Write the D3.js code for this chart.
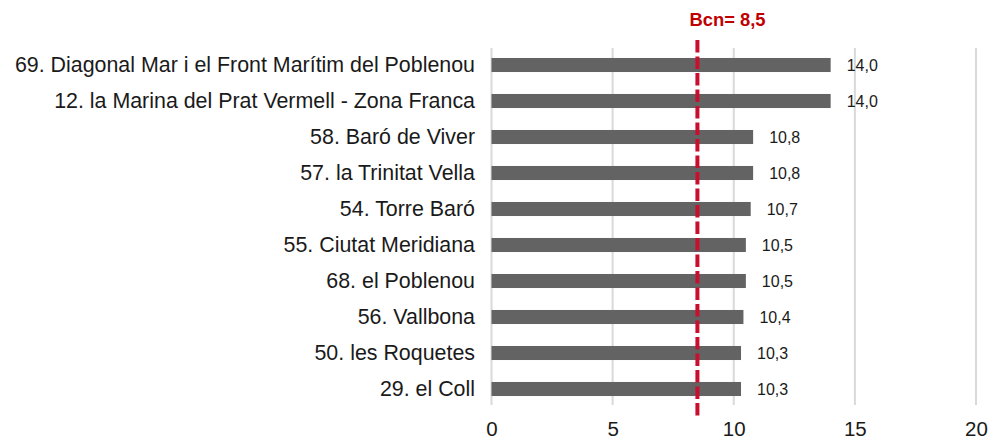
<!DOCTYPE html>
<html>
<head>
<meta charset="utf-8">
<script src="https://cdn.jsdelivr.net/npm/d3@7"></script>
<style>
  body { margin: 0; background: #fff; }
  text { font-family: "Liberation Sans", Arial, sans-serif; }
</style>
</head>
<body>
<svg width="991" height="441"></svg>
<script>
const categories = [
  '69. Diagonal Mar i el Front Marítim del Poblenou',
  '12. la Marina del Prat Vermell - Zona Franca',
  '58. Baró de Viver',
  '57. la Trinitat Vella',
  '54. Torre Baró',
  '55. Ciutat Meridiana',
  '68. el Poblenou',
  '56. Vallbona',
  '50. les Roquetes',
  '29. el Coll'
];
const values = [14.0, 14.0, 10.8, 10.8, 10.7, 10.5, 10.5, 10.4, 10.3, 10.3];
const xTicks = [0, 5, 10, 15, 20];
const bcnValue = 8.5;

const svg = d3.select('svg');
const fmt = v => d3.format('.1f')(v).replace('.', ',');

const x = d3.scaleLinear().domain([0, 20]).range([491.5, 976]);
const y = d3.scaleBand().domain(categories).range([47, 407])
  .paddingInner(0.61).paddingOuter(0.305);

// gridlines
svg.append('g')
  .selectAll('line')
  .data(xTicks)
  .enter().append('line')
  .attr('x1', d => x(d)).attr('x2', d => x(d))
  .attr('y1', 48).attr('y2', 405)
  .attr('stroke', '#d9d9d9')
  .attr('stroke-width', 2);

// bars
svg.append('g')
  .selectAll('rect')
  .data(values)
  .enter().append('rect')
  .attr('x', x(0))
  .attr('y', (d, i) => y(categories[i]))
  .attr('width', d => x(d) - x(0))
  .attr('height', y.bandwidth())
  .attr('fill', '#636363');

// value labels
svg.append('g')
  .selectAll('text')
  .data(values)
  .enter().append('text')
  .attr('x', d => x(d) + 16)
  .attr('y', (d, i) => y(categories[i]) + y.bandwidth() / 2)
  .attr('dy', '0.35em')
  .attr('font-size', 16)
  .attr('fill', '#1a1a1a')
  .text(d => fmt(d));

// category labels
svg.append('g')
  .selectAll('text')
  .data(categories)
  .enter().append('text')
  .attr('x', 475)
  .attr('y', d => y(d) + y.bandwidth() / 2)
  .attr('dy', '0.35em')
  .attr('text-anchor', 'end')
  .attr('font-size', 21.4)
  .attr('fill', '#1a1a1a')
  .text(d => d);

// x axis tick labels
const xAxis = d3.axisBottom(x).tickValues(xTicks).tickSize(0).tickPadding(0)
  .tickFormat(d3.format('d'));
const ax = svg.append('g')
  .attr('transform', 'translate(0,421)')
  .call(xAxis);
ax.select('.domain').remove();
ax.selectAll('text')
  .attr('font-size', 20.5)
  .attr('fill', '#1a1a1a');

// Barcelona reference line
svg.append('line')
  .attr('x1', x(bcnValue)).attr('x2', x(bcnValue))
  .attr('y1', 40).attr('y2', 419)
  .attr('stroke', '#c8102e')
  .attr('stroke-width', 4)
  .attr('stroke-dasharray', '12.5,4');

svg.append('text')
  .attr('x', x(bcnValue) - 8)
  .attr('y', 26)
  .attr('font-size', 18.4)
  .attr('font-weight', 'bold')
  .attr('fill', '#c00000')
  .text('Bcn= ' + fmt(bcnValue));
</script>
</body>
</html>
